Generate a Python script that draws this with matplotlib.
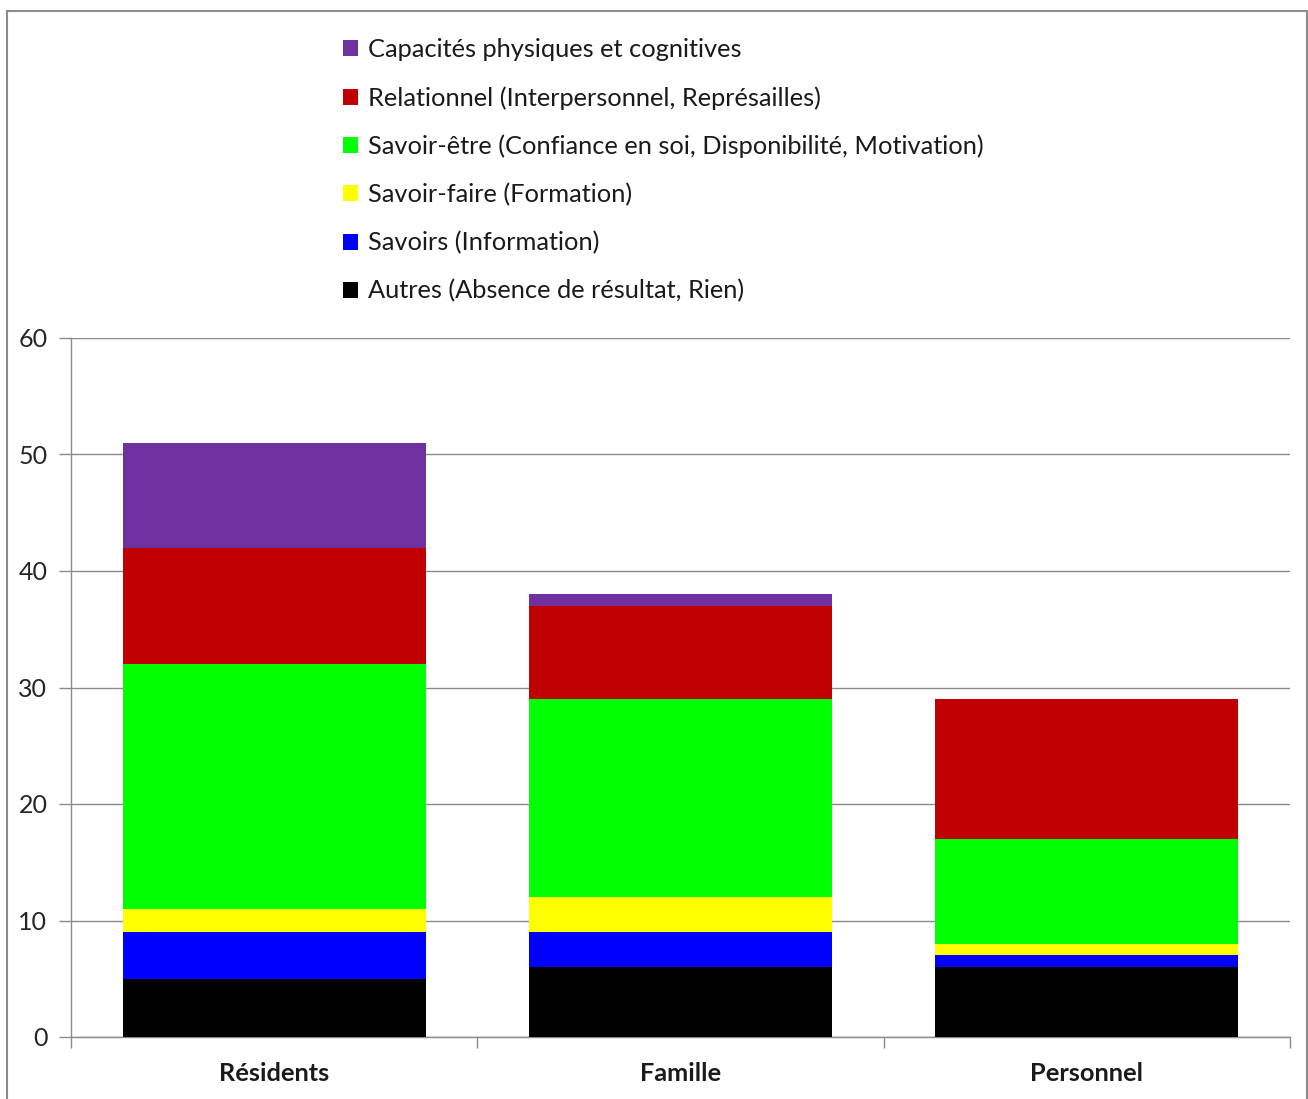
import matplotlib
matplotlib.use("Agg")
import matplotlib.pyplot as plt
from matplotlib.patches import Rectangle, Patch
import numpy as np

# Data: stacked counts per group
groups = ["Résidents", "Famille", "Personnel"]
series_names = [
    "Autres (Absence de résultat, Rien)",
    "Savoirs (Information)",
    "Savoir-faire (Formation)",
    "Savoir-être (Confiance en soi, Disponibilité, Motivation)",
    "Relationnel (Interpersonnel, Représailles)",
    "Capacités physiques et cognitives",
]
autres = [5, 6, 6]
savoirs = [4, 3, 1]
savoir_faire = [2, 3, 1]
savoir_etre = [21, 17, 9]
relationnel = [10, 8, 12]
capacites = [9, 1, 0]
series_values = [autres, savoirs, savoir_faire, savoir_etre, relationnel, capacites]
colors = ["#000000", "#0000FF", "#FFFF00", "#00FF00", "#C00000", "#7030A0"]
y_ticks = [0, 10, 20, 30, 40, 50, 60]

plt.rcParams["font.family"] = ["Lato", "DejaVu Sans"]

W, H = 1308, 1099
fig = plt.figure(figsize=(W / 100, H / 100), dpi=100)
fig.patch.set_facecolor("white")

# Outer frame of the chart area
fig.add_artist(Rectangle((6.5 / W, -0.01), (1307 - 6.5) / W, 1 - 10.5 / H + 0.01,
                         transform=fig.transFigure, fill=False,
                         edgecolor="#8c8c8c", linewidth=1.5))

ax = fig.add_axes([71 / W, 1 - 1037 / H, (1290 - 71) / W, (1037 - 338) / H])

x = np.arange(len(groups))
bottom = np.zeros(len(groups))
handles = []
for name, vals, col in zip(series_names, series_values, colors):
    vals = np.array(vals, dtype=float)
    ax.bar(x, vals, width=0.745, bottom=bottom, color=col, edgecolor="none",
           zorder=3, label=name)
    bottom += vals
    handles.append(Patch(facecolor=col, edgecolor="none", label=name))

ax.set_xlim(-0.5, 2.5)
ax.set_ylim(0, 60)
ax.set_yticks(y_ticks)
ax.set_yticklabels([str(t) for t in y_ticks], fontsize=18, color="#262626")
ax.yaxis.grid(True, color="#8a8a8a", linewidth=1.0, zorder=0)
ax.set_axisbelow(True)

ax.set_xticks(x)
ax.set_xticklabels(groups, fontsize=18.3, fontweight="bold", color="#1a1a1a")
ax.set_xticks([-0.5, 0.5, 1.5, 2.5], minor=True)
ax.tick_params(axis="x", which="major", length=0, pad=18)
ax.tick_params(axis="x", which="minor", length=8, color="#8a8a8a", width=1.0)
ax.tick_params(axis="y", which="major", length=9, color="#8a8a8a", width=1.0, pad=8)

for side in ["top", "right"]:
    ax.spines[side].set_visible(False)
for side in ["left", "bottom"]:
    ax.spines[side].set_color("#8a8a8a")
    ax.spines[side].set_linewidth(1.0)

leg = fig.legend(handles=handles[::-1], loc="upper left",
                 bbox_to_anchor=(333 / W, 1 - 28 / H), frameon=False,
                 fontsize=18.3, handlelength=0.58, handleheight=0.58,
                 handletextpad=0.4, labelspacing=0.98, borderaxespad=0)
for t in leg.get_texts():
    t.set_color("#1a1a1a")

fig.savefig("out.png", dpi=100, facecolor="white")
